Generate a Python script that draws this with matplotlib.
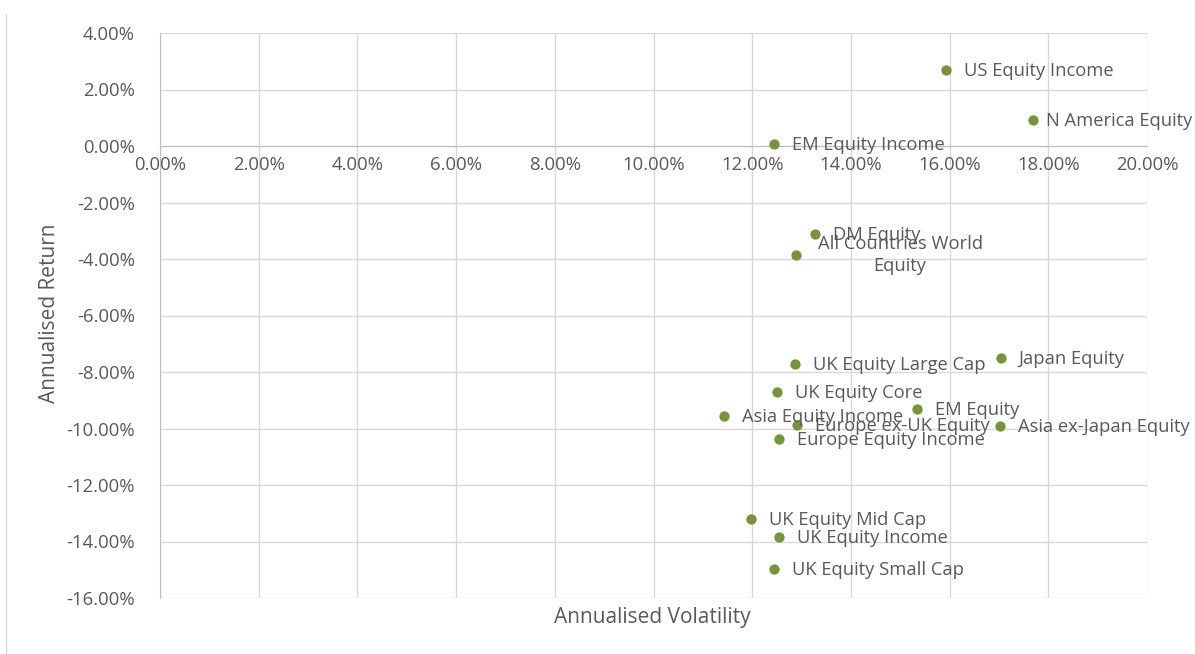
import matplotlib.pyplot as plt
from matplotlib.ticker import FuncFormatter, MultipleLocator
from matplotlib.lines import Line2D

names = [
    "US Equity Income", "N America Equity", "EM Equity Income", "DM Equity",
    "All Countries World\nEquity", "UK Equity Large Cap", "Japan Equity",
    "UK Equity Core", "EM Equity", "Asia Equity Income", "Europe ex-UK Equity",
    "Asia ex-Japan Equity", "Europe Equity Income", "UK Equity Mid Cap",
    "UK Equity Income", "UK Equity Small Cap",
]
volatility = [15.93, 17.69, 12.44, 13.27, 12.89, 12.87, 17.04, 12.50, 15.34,
              11.43, 12.91, 17.02, 12.54, 11.98, 12.54, 12.44]
returns = [2.69, 0.92, 0.07, -3.12, -3.86, -7.72, -7.50, -8.71, -9.31,
           -9.56, -9.88, -9.91, -10.37, -13.20, -13.84, -14.97]

text_col = "#595959"
green = "#77933C"
plt.rcParams["font.family"] = ["Open Sans", "DejaVu Sans"]

fig = plt.figure(figsize=(11.95, 6.54), dpi=100)
ax = fig.add_axes([160 / 1195, 1 - 598 / 654, (1147 - 160) / 1195, (598 - 33) / 654])

ax.scatter(volatility, returns, s=55, color=green, zorder=3, linewidths=0)
for x, y, n in zip(volatility, returns, names):
    if "\n" in n:
        ax.annotate(n, (x, y), xytext=(19 + 85, 0), textcoords="offset pixels",
                    ha="center", va="center", fontsize=13.2, color=text_col,
                    linespacing=1.35, zorder=4)
    else:
        # labels near the right edge get pulled in a little, as in the original
        dx = 13 if x > 17.5 else 18
        ax.annotate(n, (x, y), xytext=(dx, -1), textcoords="offset pixels",
                    ha="left", va="center", fontsize=13.2, color=text_col, zorder=4)

ax.set_xlim(0, 20)
ax.set_ylim(-16, 4)
ax.xaxis.set_major_locator(MultipleLocator(2))
ax.yaxis.set_major_locator(MultipleLocator(2))
pct = FuncFormatter(lambda v, p: f"{v:.2f}%")
ax.xaxis.set_major_formatter(pct)
ax.yaxis.set_major_formatter(pct)
ax.grid(True, color="#D9D9D9", linewidth=1)
ax.set_axisbelow(True)

for s in ["top", "right"]:
    ax.spines[s].set_visible(False)
ax.spines["bottom"].set_position(("data", 0))
ax.spines["bottom"].set_color("#BFBFBF")
ax.spines["left"].set_color("#BFBFBF")
ax.tick_params(axis="both", length=0, labelsize=13.3, labelcolor=text_col)
ax.tick_params(axis="x", pad=7)
ax.tick_params(axis="y", pad=18)

fig.text(652 / 1195, 1 - 617 / 654, "Annualised Volatility", ha="center", va="center",
         fontsize=15, color=text_col)
fig.text(50 / 1195, 1 - 313 / 654, "Annualised Return", ha="center", va="center",
         rotation=90, fontsize=15, color=text_col)

fig.add_artist(Line2D([6 / 1195, 6 / 1195], [0, 1 - 14 / 654], color="#D9D9D9",
                      linewidth=1, transform=fig.transFigure))

fig.savefig("out.png", dpi=100)
